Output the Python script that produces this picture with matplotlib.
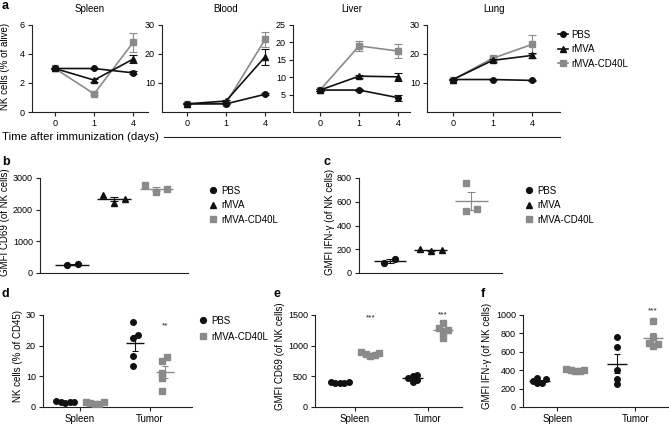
import numpy as np
import matplotlib
matplotlib.use("Agg")
import matplotlib.pyplot as plt
from matplotlib.lines import Line2D

plt.rcParams['font.family'] = ['Liberation Sans', 'DejaVu Sans']

# ---- data ----
groups = ['PBS', 'rMVA', 'rMVA-CD40L']
days = ['0', '1', '4']
tissues = ['Spleen', 'Blood', 'Liver', 'Lung']

# panel a: mean per day, rows = PBS, rMVA, rMVA-CD40L
spleen_mean = [[3.0, 3.0, 2.7], [3.0, 2.2, 3.65], [3.0, 1.25, 4.8]]
spleen_sem = [[0.05, 0.05, 0.1], [0.05, 0.1, 0.3], [0.05, 0.1, 0.65]]
blood_mean = [[2.8, 2.8, 6.1], [2.8, 3.8, 19.0], [2.8, 3.0, 25.0]]
blood_sem = [[0.2, 0.2, 0.3], [0.2, 0.4, 2.8], [0.2, 0.3, 2.7]]
liver_mean = [[6.3, 6.3, 4.1], [6.3, 10.3, 10.1], [6.3, 19.0, 17.5]]
liver_sem = [[0.2, 0.3, 0.8], [0.2, 0.4, 1.2], [0.2, 1.5, 2.0]]
lung_mean = [[11.2, 11.2, 10.9], [11.2, 17.8, 19.5], [11.2, 18.5, 23.3]]
lung_sem = [[0.3, 0.3, 0.3], [0.3, 0.6, 1.0], [0.3, 0.6, 3.3]]

# panel b / c: individual mice
b_pbs = [260, 275]
b_rmva = [2460, 2210, 2330]
b_cd40l = [2780, 2560, 2650]
c_pbs = [85, 118]
c_rmva = [185, 200, 190]
c_cd40l = [525, 760, 535]

# panels d-f: PBS vs rMVA-CD40L, spleen and tumor
sites = ['Spleen', 'Tumor']
d_pbs = [[1.6, 1.8, 1.5, 1.7, 1.4], [27.8, 23.5, 22.5, 16.5, 13.5]]
d_cd40l = [[1.5, 1.2, 1.0, 0.9, 1.6], [15.0, 16.3, 11.0, 9.5, 5.2]]
e_pbs = [[405, 400, 395, 390, 385], [520, 500, 470, 440, 410]]
e_cd40l = [[900, 880, 860, 840, 830], [1370, 1290, 1250, 1230, 1120]]
f_pbs = [[320, 300, 280, 265, 260], [760, 650, 400, 300, 250]]
f_cd40l = [[410, 405, 400, 395, 390], [940, 760, 700, 690, 660]]

BLACK = '#111111'
GREY = '#8a8a8a'
colors = [BLACK, BLACK, GREY]
markers = ['o', '^', 's']

W, H = 669, 424
fig = plt.figure(figsize=(W / 100, H / 100), dpi=100)


def add_ax(x0, y0, x1, y1):
    return fig.add_axes([x0 / W, 1 - y1 / H, (x1 - x0) / W, (y1 - y0) / H])


def style(ax):
    for s in ('top', 'right'):
        ax.spines[s].set_visible(False)
    for s in ('left', 'bottom'):
        ax.spines[s].set_linewidth(0.8)
        ax.spines[s].set_color('#222222')
    ax.tick_params(length=3, width=0.8, pad=2, labelsize=6.5, color='#222222')


def swarm(ax, vals, center, step_px):
    # simple beeswarm: push colliding points sideways
    x0, x1 = ax.get_xlim()
    y0, y1 = ax.get_ylim()
    bb = ax.get_window_extent()
    xs_px = bb.width / (x1 - x0)
    ys_px = bb.height / (y1 - y0)
    placed = []
    off = np.zeros(len(vals))
    cands = [0]
    for k in range(1, 6):
        cands += [k, -k]
    for i in np.argsort(vals):
        ypx = vals[i] * ys_px
        for c in cands:
            xpx = c * step_px
            if all(np.hypot(xpx - px, ypx - py) >= step_px * 0.99 for px, py in placed):
                break
        placed.append((xpx, ypx))
        off[i] = xpx
    off = off - (off.min() + off.max()) / 2
    return center + off / xs_px


def dots(ax, vals, center, color, marker, ms, step_px, half_w, cap):
    vals = np.asarray(vals, float)
    xs = swarm(ax, vals, center, step_px)
    ax.plot(xs, vals, linestyle='none', marker=marker, ms=ms, color=color, mec=color, zorder=3)
    m = vals.mean()
    sem = vals.std(ddof=1) / np.sqrt(len(vals))
    ax.hlines(m, center - half_w, center + half_w, color=color, lw=1.0, zorder=4)
    ax.errorbar([center], [m], yerr=[sem], color=color, lw=0.8, capsize=cap, capthick=0.8, zorder=4)


# ---- panel a ----
a_boxes = [(32, 148), (162, 290), (293, 410), (427, 560)]
a_xlims = [(-0.59, 2.38), (-0.64, 2.64), (-0.69, 2.3), (-0.66, 2.71)]
a_means = [spleen_mean, blood_mean, liver_mean, lung_mean]
a_sems = [spleen_sem, blood_sem, liver_sem, lung_sem]
a_ylims = [(0, 6), (0, 30), (0, 25), (0, 30)]
a_ticks = [[0, 2, 4, 6], [10, 20, 30], [5, 10, 15, 20, 25], [10, 20, 30]]

for i, name in enumerate(tissues):
    ax = add_ax(a_boxes[i][0], 25, a_boxes[i][1], 112)
    style(ax)
    for g in (2, 1, 0):
        ax.errorbar(range(3), a_means[i][g], yerr=a_sems[i][g], color=colors[g],
                    marker=markers[g], ms=4, lw=1.2, capsize=3, capthick=0.8,
                    elinewidth=0.8, zorder=3 - g * 0.1)
    ax.set_xlim(*a_xlims[i])
    ax.set_ylim(*a_ylims[i])
    ax.set_yticks(a_ticks[i])
    ax.set_xticks(range(3))
    ax.set_xticklabels(days)
    ax.set_title(name, fontsize=7, pad=9)

fig.text(2 / W, 1 - 0 / H, 'a', fontsize=9, fontweight='bold', va='top')
fig.text(5 / W, 1 - 66 / H, 'NK cells (% of alive)', rotation=90, fontsize=7, ha='center', va='center')
fig.text(2 / W, 1 - 137 / H, 'Time after immunization (days)', fontsize=8.2, va='center')
fig.add_artist(Line2D([164 / W, 560 / W], [1 - 137 / H, 1 - 137 / H], color='#222222', lw=0.8))

a_handles = [Line2D([], [], color=colors[g], marker=markers[g], ms=4, lw=1.2) for g in range(3)]
fig.legend(a_handles, groups, loc='upper left', bbox_to_anchor=(553 / W, 1 - 25 / H), frameon=False,
           fontsize=7, handlelength=1.0, handletextpad=0.4, labelspacing=0.45, borderpad=0)

# ---- panels b, c ----
bc = [(b_pbs, b_rmva, b_cd40l), (c_pbs, c_rmva, c_cd40l)]
bc_boxes = [(40, 188), (359, 502)]
bc_ylims = [(0, 3000), (0, 800)]
bc_ticks = [[0, 1000, 2000, 3000], [0, 200, 400, 600, 800]]
bc_labels = ['GMFI CD69 (of NK cells)', 'GMFI IFN-γ (of NK cells)']
bc_letters = ['b', 'c']
bc_letter_x = [2, 323]
bc_label_x = [5, 330]
bc_legend_x = [205, 521]
for i in range(2):
    ax = add_ax(bc_boxes[i][0], 178, bc_boxes[i][1], 273)
    style(ax)
    ax.set_xlim(-0.76, 2.75)
    ax.set_ylim(*bc_ylims[i])
    ax.set_yticks(bc_ticks[i])
    ax.set_xticks([])
    for g in range(3):
        dots(ax, bc[i][g], g, colors[g], markers[g], 4.2, 11, 0.4, 3)
    fig.text(bc_letter_x[i] / W, 1 - 156 / H, bc_letters[i], fontsize=9, fontweight='bold', va='top')
    fig.text(bc_label_x[i] / W, 1 - 222 / H, bc_labels[i], rotation=90, fontsize=7, ha='center', va='center')
    hs = [Line2D([], [], color=colors[g], marker=markers[g], ms=4.2, lw=0) for g in range(3)]
    fig.legend(hs, groups, loc='upper left', bbox_to_anchor=(bc_legend_x[i] / W, 1 - 181 / H), frameon=False,
               fontsize=7, handlelength=0.7, handletextpad=0.5, labelspacing=0.45, borderpad=0)

# ---- panels d, e, f ----
def_data = [(d_pbs, d_cd40l), (e_pbs, e_cd40l), (f_pbs, f_cd40l)]
def_boxes = [(43, 192), (315, 462), (523, 668)]
def_xlims = [(-0.53, 1.6), (-0.55, 1.47), (-0.44, 1.42)]
def_ylims = [(0, 30), (0, 1500), (0, 1000)]
def_ticks = [[0, 10, 20, 30], [0, 500, 1000, 1500], [0, 200, 400, 600, 800, 1000]]
def_labels = ['NK cells (% of CD45)', 'GMFI CD69 (of NK cells)', 'GMFI IFN-γ (of NK cells)']
def_letters = ['d', 'e', 'f']
def_letter_x = [2, 273, 481]
def_label_x = [18, 280, 487]
def_offset = [0.21, 0.21, 0.23]
def_halfw = [0.13, 0.14, 0.13]
# significance marks: (site index, y value, text)
def_stars = [[(1, 26.5, '**')], [(0, 1450, '***'), (1, 1500, '***')], [(1, 1040, '***')]]

for i in range(3):
    ax = add_ax(def_boxes[i][0], 315, def_boxes[i][1], 407)
    style(ax)
    ax.set_xlim(*def_xlims[i])
    ax.set_ylim(*def_ylims[i])
    ax.set_yticks(def_ticks[i])
    ax.set_xticks(range(2))
    ax.set_xticklabels(sites, fontsize=7)
    pbs, cd = def_data[i]
    for s in range(2):
        dots(ax, pbs[s], s - def_offset[i], BLACK, 'o', 4.0, 4.5, def_halfw[i], 2.5)
        dots(ax, cd[s], s + def_offset[i], GREY, 's', 4.0, 4.5, def_halfw[i], 2.5)
    for s, yv, txt in def_stars[i]:
        ax.text(s + def_offset[i], yv, txt, ha='center', va='center', fontsize=6, color='#222222')
    fig.text(def_letter_x[i] / W, 1 - 288 / H, def_letters[i], fontsize=9, fontweight='bold', va='top')
    fig.text(def_label_x[i] / W, 1 - 356 / H, def_labels[i], rotation=90, fontsize=7, ha='center', va='center')

hs = [Line2D([], [], color=BLACK, marker='o', ms=4.2, lw=0), Line2D([], [], color=GREY, marker='s', ms=4.2, lw=0)]
fig.legend(hs, ['PBS', 'rMVA-CD40L'], loc='upper left', bbox_to_anchor=(195 / W, 1 - 311 / H), frameon=False,
           fontsize=7, handlelength=0.7, handletextpad=0.5, labelspacing=0.6, borderpad=0)

fig.savefig('out.png', dpi=100)
